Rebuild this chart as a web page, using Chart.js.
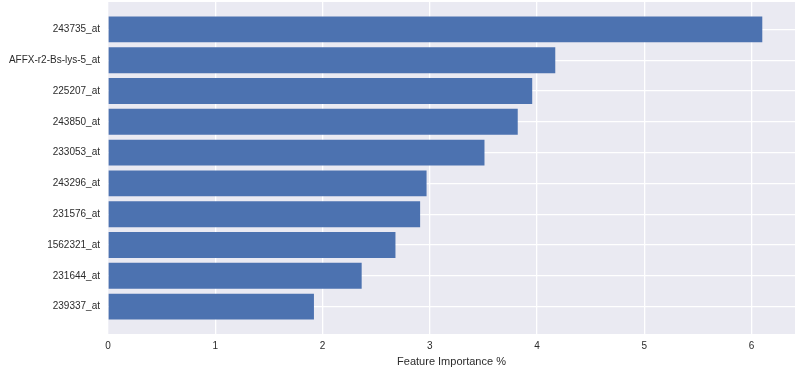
<!DOCTYPE html>
<html>
<head>
<meta charset="utf-8">
<script src="https://cdn.jsdelivr.net/npm/chart.js@4/dist/chart.umd.min.js"></script>
<style>
  html, body { margin: 0; padding: 0; background: #fff; }
  #wrap { width: 800px; height: 372px; }
</style>
</head>
<body>
<div id="wrap"><canvas id="importanceChart"></canvas></div>
<script>
// feature names, top to bottom
const features = ['243735_at', 'AFFX-r2-Bs-lys-5_at', '225207_at', '243850_at', '233053_at',
    '243296_at', '231576_at', '1562321_at', '231644_at', '239337_at'];
// importance in %
const importance = [6.10, 4.17, 3.955, 3.82, 3.51, 2.97, 2.91, 2.68, 2.365, 1.92];
const xTicks = [0, 1, 2, 3, 4, 5, 6];

// grey seaborn-like background behind the plot area
const plotBg = {
    id: 'plotBg',
    beforeDraw(chart) {
        const { ctx, chartArea: a } = chart;
        ctx.save();
        ctx.fillStyle = '#EAEAF2';
        ctx.fillRect(a.left, a.top, a.right - a.left, a.bottom - a.top);
        ctx.restore();
    }
};

const ctx = document.getElementById('importanceChart').getContext('2d');
new Chart(ctx, {
    type: 'bar',
    data: {
        datasets: [{
            data: importance.map((v, i) => ({ x: v, y: i })),
            backgroundColor: '#4C72B0',
            borderWidth: 0,
            barPercentage: 0.84,
            categoryPercentage: 1,
        }],
    },
    options: {
        indexAxis: 'y',
        responsive: true,
        maintainAspectRatio: false,
        animation: false,
        layout: { padding: { top: 2, right: 5, left: 0, bottom: 0 } },
        plugins: {
            legend: { display: false },
            tooltip: { enabled: false },
        },
        scales: {
            x: {
                type: 'linear',
                min: 0,
                max: 6.405,
                afterBuildTicks: scale => { scale.ticks = xTicks.map(v => ({ value: v })); },
                afterFit: scale => {
                    scale.height = 38;
                    scale.paddingLeft = 0;
                    scale.paddingRight = 0;
                },
                grid: { color: '#ffffff', lineWidth: 1.3, drawTicks: false },
                border: { display: false },
                ticks: {
                    padding: 6,
                    color: '#2b2b2b',
                    font: { family: 'Liberation Sans, Arial', size: 10 },
                },
                title: {
                    display: true,
                    text: 'Feature Importance %',
                    color: '#2b2b2b',
                    padding: { top: 0, bottom: 3 },
                    font: { family: 'Liberation Sans, Arial', size: 11 },
                },
            },
            y: {
                type: 'linear',
                reverse: true,
                offset: false,
                min: -0.89,
                max: 9.89,
                afterBuildTicks: scale => { scale.ticks = features.map((f, i) => ({ value: i })); },
                afterFit: scale => {
                    scale.width = 108;
                    scale.paddingTop = 0;
                    scale.paddingBottom = 0;
                },
                grid: { color: '#ffffff', lineWidth: 1.3, drawTicks: false, offset: false },
                border: { display: false },
                ticks: {
                    padding: 8,
                    color: '#2b2b2b',
                    font: { family: 'Liberation Sans, Arial', size: 10 },
                    callback: value => features[value],
                },
            },
        },
    },
    plugins: [plotBg],
});
</script>
</body>
</html>
